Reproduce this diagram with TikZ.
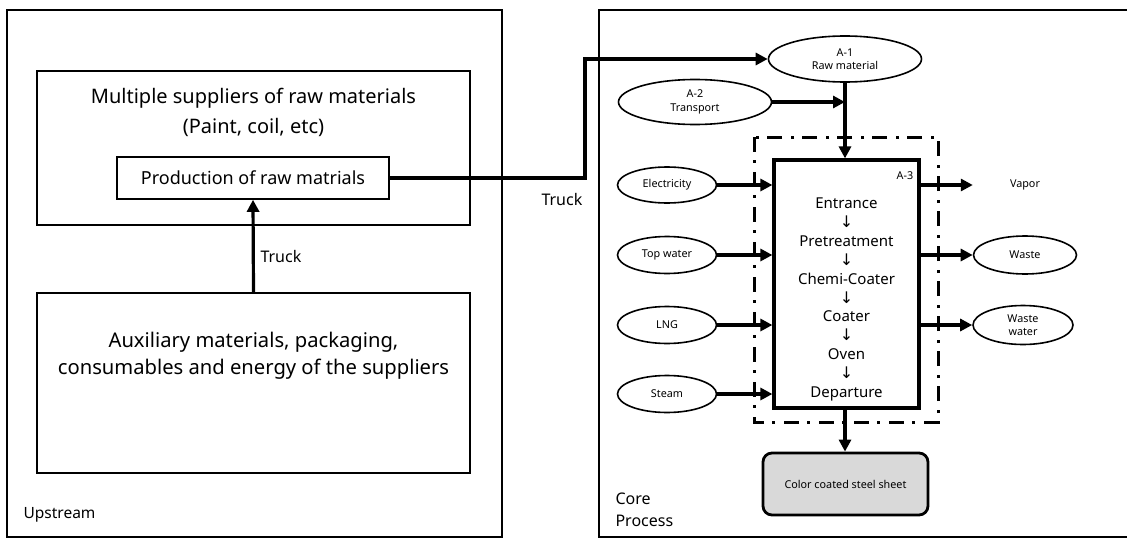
\documentclass[tikz,border=0pt]{standalone}
\usepackage{fontspec}
\setmainfont{Noto Sans}
\newfontfamily\arrfont{DejaVu Sans}
\usetikzlibrary{arrows.meta,shapes.geometric}
\newcommand{\fs}[2]{\fontsize{#1}{#2}\selectfont}
\newcommand{\dn}{{\arrfont\fs{16}{18.9}\char"2193}}
\begin{document}
\begin{tikzpicture}[x=1pt,y=-1pt,
  outerbox/.style={line width=2.5pt},
  thinbox/.style={draw, line width=1.6pt, rectangle, inner sep=0pt},
  arr/.style={line width=3.2pt, -{Triangle[length=12pt,width=12pt]}},
  ell/.style={draw, ellipse, line width=1.6pt, inner sep=0pt, align=center},
  small/.style={font=\fs{10.8}{13.5}}
]
\useasboundingbox (0,0) rectangle (1127,538);
% frames
\draw[outerbox] (7,10) rectangle (502,537);
\draw[outerbox] (599,10) rectangle (1140,537);
% upstream
\node[thinbox, minimum width=433pt, minimum height=154pt] (sup) at (253.5,148) {};
\node[align=center, font=\fs{20}{30}] (supt) at (253.5,112) {Multiple suppliers of raw materials\\(Paint, coil, etc)};
\node[thinbox, minimum width=272pt, minimum height=42pt, font=\fs{18}{20}] (prod) at (253,178) {Production of raw matrials};
\node[thinbox, minimum width=433pt, minimum height=180pt] (aux) at (253.5,383) {};
\node[align=center, font=\fs{20.2}{27}] (auxt) at (253.5,356) {Auxiliary materials, packaging,\\consumables and energy of the suppliers};
\draw[arr] (aux.north) -- (prod.south);
\node[anchor=west, font=\fs{16}{18}] (truck1) at (257,256) {Truck};
\node[anchor=west, font=\fs{15.5}{18}] (up) at (20,515) {Upstream};
% core
\node[ell, minimum width=153pt, minimum height=46pt, small] (a1) at (845,59) {A-1\\Raw material};
\node[ell, minimum width=153pt, minimum height=45pt, small] (a2) at (695,102) {A-2\\Transport};
\coordinate (c1) at (585,178);
\coordinate (c2) at (585,59);
\draw[arr] (prod.east) -- (c1) -- (c2) -- (a1.west);
\node[anchor=west, font=\fs{16}{18}] (truck2) at (538,199) {Truck};
\draw[line width=3pt, dash pattern=on 15pt off 8pt on 3pt off 9pt] (754,137) rectangle (938,422);
\node[draw, line width=3.2pt, minimum width=145pt, minimum height=248pt, inner sep=0pt] (a3) at (846.5,284) {};
\node[small] (a3l) at (905,176) {A-3};
\node[align=center, font=\fs{15}{18.9}] (proc) at (846.5,299.5) {Entrance\\\dn\\Pretreatment\\\dn\\Chemi-Coater\\\dn\\Coater\\\dn\\Oven\\\dn\\Departure};
\coordinate (j) at (a1.south |- a2.east);
\draw[arr] (a2.east) -- (j);
\draw[arr] (a1.south) -- (a1.south |- a3.north);
% inputs
\node[ell, minimum width=99pt, minimum height=36pt, small] (el) at (667,185) {Electricity};
\node[ell, minimum width=99pt, minimum height=37pt, small] (tw) at (667,255) {Top water};
\node[ell, minimum width=99pt, minimum height=37pt, small] (lng) at (667,325) {LNG};
\node[ell, minimum width=99pt, minimum height=37pt, small] (st) at (667,394) {Steam};
\foreach \n in {el,tw,lng,st} \draw[arr] (\n.east) -- (\n -| a3.west);
% outputs
\node[minimum width=104pt, inner sep=0pt, small] (vap) at (1025,185) {Vapor};
\node[ell, minimum width=103pt, minimum height=38pt, small] (ws) at (1025,255) {Waste};
\node[ell, minimum width=100pt, minimum height=39pt, small] (ww) at (1023,325) {Waste\\water};
\foreach \n in {vap,ws,ww} \draw[arr] (a3.east |- \n) -- (\n.west);
% product
\node[draw, line width=2.8pt, rounded corners=9pt, fill=black!15, minimum width=165pt, minimum height=62pt, small] (prd) at (845.5,484) {Color coated steel sheet};
\draw[arr] (a3.south -| a1.south) -- (prd.north -| a1.south);
\node[anchor=north west, align=left, font=\fs{16}{22}] (core) at (612,489) {Core\\Process};
\end{tikzpicture}
\end{document}
